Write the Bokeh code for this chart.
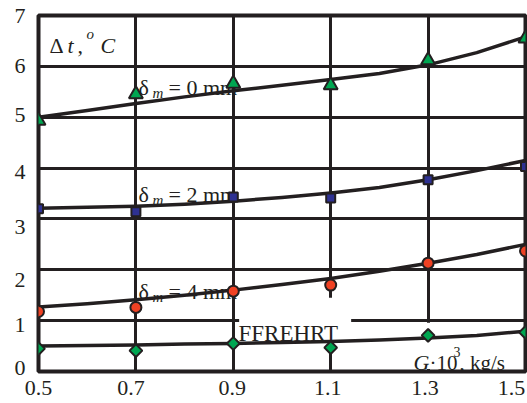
from bokeh.plotting import figure
from bokeh.models import Label, FixedTicker, Range1d, CustomJSTickFormatter
from bokeh.embed import file_html
from bokeh.resources import INLINE
import numpy as np

# ---------------- data ----------------
x_ticks = [0.5, 0.7, 0.9, 1.1, 1.3, 1.5]
x_tick_labels = ["0.5", "0.7", "0.9", "1.1", "1.3", "1.5"]
y_ticks = [0, 1, 2, 3, 4, 5, 6, 7]
y_tick_labels = ["0", "1", "2", "3", "4", "5", "6", "7"]

G_points = [0.5, 0.7, 0.9, 1.1, 1.3, 1.5]
dt_0mm = [4.93, 5.45, 5.66, 5.63, 6.12, 6.55]
dt_2mm = [3.20, 3.14, 3.43, 3.41, 3.77, 4.03]
dt_4mm = [1.18, 1.26, 1.58, 1.70, 2.13, 2.37]
dt_ffrehrt = [0.45, 0.41, 0.55, 0.47, 0.71, 0.77]

G_curve = [0.5, 0.6, 0.7, 0.8, 0.9, 1.0, 1.1, 1.2, 1.3, 1.4, 1.5]
fit_0mm = [5.00, 5.13, 5.27, 5.40, 5.52, 5.63, 5.74, 5.86, 6.03, 6.27, 6.58]
fit_2mm = [3.21, 3.23, 3.25, 3.29, 3.35, 3.42, 3.51, 3.62, 3.77, 3.95, 4.15]
fit_4mm = [1.27, 1.33, 1.41, 1.50, 1.60, 1.71, 1.83, 1.97, 2.13, 2.30, 2.50]
fit_ffrehrt = [0.50, 0.51, 0.52, 0.54, 0.55, 0.57, 0.59, 0.62, 0.66, 0.71, 0.79]

# ---------------- style ----------------
INK = "#231f20"
FONT = "Liberation Serif"
W, H = 527, 403
GREEN = "#00a651"
NAVY = "#2e3192"
RED = "#ef4123"

# reference-picture geometry used to place the captions (pixels -> data)
REF_X0, REF_PX_PER_X = 38.0, 487.0
REF_Y0, REF_PX_PER_Y = 371.0, 50.86


def ref(px, py):
    return 0.5 + (px - REF_X0) / REF_PX_PER_X, (REF_Y0 - py) / REF_PX_PER_Y


p = figure(width=W, height=H, x_range=Range1d(0.5, 1.5), y_range=Range1d(0, 7),
           output_backend="svg", toolbar_location=None,
           min_border_left=38, min_border_right=2, min_border_top=15, min_border_bottom=32)
p.background_fill_color = "white"
p.border_fill_color = "white"
p.outline_line_color = INK
p.outline_line_width = 4

# tick labels sit slightly off their grid lines in the reference (pixel shifts)
x_label_shift_px = [0, -5, -1, -3, -3, -14]      # + = right
y_label_shift_px = [-4, 4, 10, 8, 4, -2, 0, 0]   # + = down
x_label_pos = [t + s / REF_PX_PER_X for t, s in zip(x_ticks, x_label_shift_px)]
y_label_pos = [t - s / REF_PX_PER_Y for t, s in zip(y_ticks, y_label_shift_px)]
p.xaxis.ticker = FixedTicker(ticks=x_label_pos)
p.xaxis.formatter = CustomJSTickFormatter(args=dict(labels=x_tick_labels), code="return labels[index]")
p.yaxis.ticker = FixedTicker(ticks=y_label_pos)
p.yaxis.formatter = CustomJSTickFormatter(args=dict(labels=y_tick_labels), code="return labels[index]")
for ax in (p.xaxis, p.yaxis):
    ax.axis_line_color = None
    ax.major_tick_line_color = None
    ax.minor_tick_line_color = None
    ax.major_tick_out = 0
    ax.major_tick_in = 0
    ax.major_label_text_font = FONT
    ax.major_label_text_font_size = "22px"
    ax.major_label_text_color = INK
p.yaxis.major_label_standoff = 13
p.xaxis.major_label_standoff = 9

p.xgrid.ticker = FixedTicker(ticks=x_ticks)
p.ygrid.ticker = FixedTicker(ticks=y_ticks)
for g in (p.xgrid, p.ygrid):
    g.grid_line_color = INK
    g.grid_line_width = 3

# white boxes behind two captions
box_ff = dict(left=[0.912], right=[1.142], bottom=[0.57], top=[1.45])
box_G = dict(left=[1.18], right=[1.494], bottom=[0.05], top=[0.96])
p.quad(**box_ff, fill_color="white", line_color=None)
p.quad(**box_G, fill_color="white", line_color=None)

# fitted curves
for fit in (fit_0mm, fit_2mm, fit_4mm, fit_ffrehrt):
    p.line(G_curve, fit, line_color=INK, line_width=3.5, line_join="round", line_cap="round")

# measured points
p.scatter(G_points, dt_0mm, marker="triangle", size=14, fill_color=GREEN, line_color=INK, line_width=2)
p.scatter(G_points, dt_2mm, marker="square", size=9, fill_color=NAVY, line_color=INK, line_width=2)
p.scatter(G_points, dt_4mm, marker="circle", size=11, fill_color=RED, line_color=INK, line_width=2)
p.scatter(G_points, dt_ffrehrt, marker="square", angle=np.pi / 4, size=9, fill_color=GREEN,
          line_color=INK, line_width=2)


def put(text, px, py, size="22px", style="normal", level="annotation"):
    x, y = ref(px, py)
    p.add_layout(Label(x=x, y=y, text=text,
                       text_font=FONT, text_font_size=size, text_font_style=style,
                       text_color=INK, text_baseline="alphabetic", text_align="left",
                       level=level))


# y-axis caption
put("Δ", 49, 45)
put("t", 67, 45, style="italic")
put(",", 77, 45)
put("o", 86, 33, size="15px", style="italic")
put("C", 100, 45, style="italic")

# curve captions
for num, base in (("0", 87), ("2", 194), ("4", 291)):
    put("δ", 138, base, level="underlay")
    put("m", 152, base + 5, size="15px", style="italic", level="underlay")
    put("= " + num + " mm", 168, base, level="underlay")

put("FFREHRT", 238, 333, size="23px")

# x-axis caption
put("G", 413, 362, style="italic")
put("·10", 429, 362, size="21px")
put("3", 453, 351, size="14px")
put(", kg/s", 459, 362, size="21px")

open("out.html", "w").write(file_html(p, INLINE))
